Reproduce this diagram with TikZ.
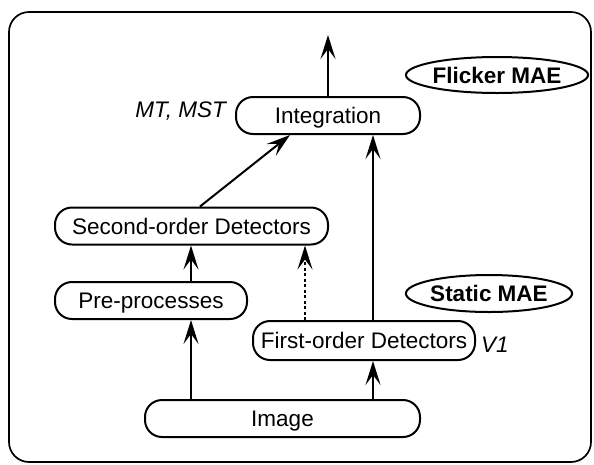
\documentclass[tikz,border=0pt]{standalone}
\usepackage{fontspec}
\setmainfont{Liberation Sans}
\usetikzlibrary{arrows.meta,shapes.geometric}
\begin{document}
\begin{tikzpicture}[x=1pt,y=-1pt,
  box/.style={draw,line width=2pt,rounded corners=17pt,minimum height=37pt,inner sep=0pt,
    text height=20pt,text depth=4pt,font=\fontsize{22.5}{26}\selectfont},
  mae/.style={draw,ellipse,line width=2pt,inner sep=0pt,text height=20pt,text depth=4pt,
    font=\fontsize{22.5}{26}\selectfont\bfseries},
  arr/.style={line width=2pt,-{Stealth[length=24pt,width=15pt,inset=10pt]}},
  dotarr/.style={line width=1.7pt,dash pattern=on 3pt off 2.5pt,-{Stealth[length=24pt,width=15pt,inset=10pt]}},
  lbl/.style={font=\fontsize{22.5}{26}\selectfont\itshape,inner sep=0pt}]
\useasboundingbox (0,0) rectangle (594,464);
\draw[line width=1.7pt,rounded corners=20pt] (9,12) rectangle (591,462);
\node[box,minimum width=184pt] (int) at (328,115.5) {Integration};
\node[box,minimum width=273pt] (sec) at (191.5,226) {Second-order Detectors};
\node[box,minimum width=192pt] (pre) at (151,300.5) {Pre-processes};
\node[box,minimum width=222pt,minimum height=39pt] (fst) at (364,340.5) {First-order Detectors};
\node[box,minimum width=275pt] (img) at (282.5,418.5) {Image};
\node[mae,minimum width=156pt,minimum height=36pt] (fl) at (497,75) {Flicker MAE};
\node[mae,minimum width=136pt,minimum height=37pt] (st) at (489,293.5) {Static MAE};
\node[lbl,anchor=base east] (mt) at (226,117) {MT, MST};
\node[lbl,anchor=base west] (v1) at (481,352) {V1};
\coordinate (out) at (328,35);
\coordinate (xa) at (191,0);
\coordinate (xb) at (373,0);
\coordinate (xc) at (305,0);
\coordinate (xd) at (200,0);
\coordinate (xe) at (290,0);
\draw[arr] (int.north) -- (out);
\draw[arr] (sec.north -| xd) -- (int.south -| xe);
\draw[arr] (fst.north -| xb) -- (int.south -| xb);
\draw[arr] (pre.north -| xa) -- (sec.south -| xa);
\draw[dotarr] (fst.north -| xc) -- (sec.south -| xc);
\draw[arr] (img.north -| xa) -- (pre.south -| xa);
\draw[arr] (img.north -| xb) -- (fst.south -| xb);
\end{tikzpicture}
\end{document}
